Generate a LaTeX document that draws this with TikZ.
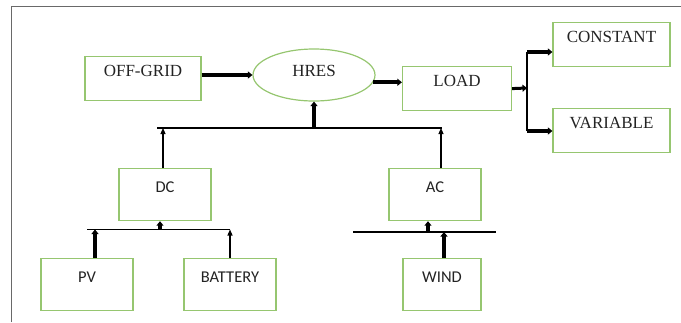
\documentclass[tikz,border=0pt]{standalone}
\usepackage{fontspec}
\usetikzlibrary{arrows.meta,shapes.geometric}
\newfontfamily\hserif{Liberation Serif}
\newfontfamily\hsans{Carlito}
\definecolor{boxline}{RGB}{150,198,112}
\definecolor{frame}{RGB}{105,105,105}
\definecolor{ink}{RGB}{35,35,35}
\tikzset{
  hbox/.style={draw=boxline,line width=1.2pt,anchor=north,inner sep=0pt,text=ink,
    font=\hserif\fontsize{17}{19}\selectfont,text height=20pt,text depth=24pt},
  sbox/.style={draw=boxline,line width=1.2pt,anchor=north,inner sep=0pt,text=ink,
    minimum width=92pt,font=\hsans\fontsize{16.5}{18}\selectfont,text height=24pt,text depth=28pt},
  hell/.style={ellipse,draw=boxline,line width=1.2pt,inner sep=0pt,text=ink,
    minimum width=122pt,minimum height=52pt,font=\hserif\fontsize{17}{19}\selectfont,
    text height=12pt,text depth=10pt},
  hthick/.style={line width=4pt,-{Triangle[length=4.5pt,width=7pt]}},
  hthin/.style={line width=1.1pt,-{Triangle[length=6pt,width=5pt]}},
  hbus/.style={line width=1.3pt},
  hframe/.style={draw=frame,line width=1.4pt},
}
\begin{document}
\begin{tikzpicture}[x=1pt,y=-1pt]
  \useasboundingbox (0,0) rectangle (681,322);
  \draw[hframe] (11.5,322) -- (11.5,6.5) -- (681,6.5);
  % top row
  \node[hbox,minimum width=116pt] (offgrid) at (143,56) {OFF-GRID};
  \node[hell] (hres) at (314,75) {HRES};
  \node[hbox,minimum width=109pt] (load) at (457,66) {LOAD};
  \node[hbox,minimum width=117pt] (constant) at (611.5,22) {CONSTANT};
  \node[hbox,minimum width=117pt] (variable) at (611.5,108) {VARIABLE};
  % converters and sources
  \node[sbox] (dc) at (165,168) {DC};
  \node[sbox] (ac) at (435,168) {AC};
  \node[sbox] (pv) at (87,258) {PV};
  \node[sbox] (battery) at (230,258) {BATTERY};
  \node[sbox,minimum width=78pt] (wind) at (442,258) {WIND};
  % junction points
  \coordinate (split) at (527,88);
  \coordinate (splitc) at (527,52);
  \coordinate (splitv) at (527,131);
  \coordinate (busl) at (157,128);
  \coordinate (busr) at (442,128);
  \coordinate (dcbusl) at (87,229.5);
  \coordinate (dcbusr) at (230,229.5);
  \coordinate (acbusl) at (353,232);
  \coordinate (acbusr) at (496,232);
  % connectors
  \draw[hthick] (offgrid.east |- hres.west) -- (hres.west);
  \draw[hthick] (hres.-7) -- (hres.-7 -| load.west);
  \draw[hthick,line width=3pt] (load.east) -- (split);
  \draw[hbus] (splitc) -- (splitv);
  \draw[hthick] (splitc) -- (splitc -| constant.west);
  \draw[hthick] (splitv) -- (splitv -| variable.west);
  \draw[hbus] (busl) -- (busr);
  \draw[hthick] (hres.south |- busl) -- (hres.south);
  \draw[hthin] ([xshift=-2pt]dc.north) -- ([xshift=-2pt]dc.north |- busl);
  \draw[hthin] ([xshift=6pt]ac.north) -- ([xshift=6pt]ac.north |- busl);
  \draw[hbus] (dcbusl) -- (dcbusr);
  \draw[hthick] ([xshift=8pt]pv.north) -- ([xshift=8pt]pv.north |- dcbusl);
  \draw[hthin] (battery.north) -- (battery.north |- dcbusl);
  \draw[hthick,line width=3.5pt] ([xshift=-5pt]dc.south |- dcbusl) -- ([xshift=-5pt]dc.south);
  \draw[hbus] (acbusl) -- (acbusr);
  \draw[hthick,line width=4.5pt] ([xshift=2pt]wind.north) -- ([xshift=2pt]wind.north |- acbusl);
  \draw[hthick,line width=3.5pt] ([xshift=-7pt]ac.south |- acbusl) -- ([xshift=-7pt]ac.south);
\end{tikzpicture}
\end{document}
